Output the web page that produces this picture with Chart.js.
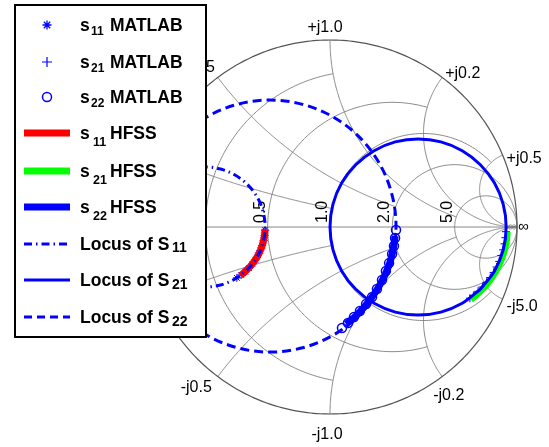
<!DOCTYPE html>
<html><head><meta charset="utf-8">
<script src="https://cdn.jsdelivr.net/npm/chart.js@4/dist/chart.umd.min.js"></script>
<style>html,body{margin:0;padding:0;background:#fff;}canvas{display:block;}</style>
</head><body>
<canvas id="c" width="549" height="447"></canvas>
<script>
// ---- Smith chart grid values ----
const resistanceGrid  = [0.2, 0.5, 1, 2, 5];
const resistanceLimit = [1, 2, 5, Infinity, Infinity];   // max |x| drawn on each r circle
const reactanceGrid   = [0.2, 0.5, 1, 2, 5];
const reactanceLimit  = [1, 2, 5, Infinity, Infinity];   // max r drawn on each x arc
const resistanceLabelValues = [0.5, 1, 2, 5];
const resistanceLabels      = ['0.5', '1.0', '2.0', '5.0'];
const reactanceLabelValues  = [1, 2, 5, 0.5, -0.5, -1, -2, -5];
const reactanceLabels       = ['+j1.0', '+j0.2', '+j0.5', '+j0.5', '-j0.5', '-j1.0', '-j0.2', '-j5.0'];
const infinityLabel = '\u221E';
const nearInfinityRe = [0.965, 0.984];

// ---- Data (reflection coefficient, real / imaginary) ----
const s11LocusRe = [-0.989,-0.978,-0.946,-0.895,-0.828,-0.751,-0.668,-0.585,-0.508,-0.441,-0.390,-0.358,-0.347,-0.358,-0.390,-0.441,-0.508,-0.585,-0.668,-0.751,-0.828,-0.895,-0.946,-0.978,-0.989];
const s11LocusIm = [0.000,-0.083,-0.161,-0.227,-0.278,-0.310,-0.321,-0.310,-0.278,-0.227,-0.161,-0.083,0.000,0.083,0.161,0.227,0.278,0.310,0.321,0.310,0.278,0.227,0.161,0.083,0.000];

const s21LocusRe = [0.804,0.879,0.926,0.942,0.926,0.879,0.804,0.707,0.593,0.471,0.349,0.236,0.138,0.063,0.016,0.000,0.016,0.063,0.138,0.236,0.349,0.471,0.593,0.707,0.804];
const s21LocusIm = [-0.333,-0.236,-0.122,0.000,0.122,0.236,0.333,0.408,0.455,0.471,0.455,0.408,0.333,0.236,0.122,0.000,-0.122,-0.236,-0.333,-0.408,-0.455,-0.471,-0.455,-0.408,-0.333];

const s22LocusRe = [-0.995,-0.972,-0.905,-0.798,-0.658,-0.495,-0.321,-0.147,0.016,0.156,0.263,0.330,0.353,0.330,0.263,0.156,0.016,-0.147,-0.321,-0.495,-0.658,-0.798,-0.905,-0.972,-0.995];
const s22LocusIm = [0.005,-0.169,-0.332,-0.472,-0.579,-0.646,-0.669,-0.646,-0.579,-0.472,-0.332,-0.169,0.005,0.179,0.342,0.482,0.589,0.656,0.679,0.656,0.589,0.482,0.342,0.179,0.005];

const s11MatlabRe = [-0.347,-0.350,-0.355,-0.363,-0.373,-0.385,-0.399,-0.415,-0.433,-0.453,-0.475,-0.498];
const s11MatlabIm = [-0.017,-0.045,-0.072,-0.099,-0.125,-0.151,-0.175,-0.198,-0.219,-0.239,-0.256,-0.272];

const s21MatlabRe = [0.941,0.938,0.933,0.926,0.916,0.905,0.891,0.875,0.857,0.837,0.815,0.792,0.767,0.748];
const s21MatlabIm = [-0.025,-0.057,-0.090,-0.122,-0.153,-0.184,-0.214,-0.243,-0.270,-0.296,-0.321,-0.344,-0.366,-0.381];

const s22MatlabRe = [0.353,0.348,0.342,0.332,0.316,0.299,0.278,0.251,0.225,0.193,0.160,0.128,0.096,0.064];
const s22MatlabIm = [-0.016,-0.059,-0.102,-0.144,-0.193,-0.235,-0.283,-0.332,-0.374,-0.412,-0.449,-0.481,-0.513,-0.540];

const s11HfssRe = [-0.347,-0.352,-0.366,-0.390,-0.422,-0.462,-0.479];
const s11HfssIm = [-0.011,-0.056,-0.110,-0.161,-0.206,-0.246,-0.260];

const s21HfssRe = [0.953,0.947,0.925,0.889,0.841,0.782,0.755];
const s21HfssIm = [-0.025,-0.084,-0.165,-0.242,-0.311,-0.370,-0.391];

const s22HfssRe = [0.348,0.337,0.316,0.273,0.214,0.144,0.086];
const s22HfssIm = [-0.048,-0.123,-0.203,-0.299,-0.390,-0.471,-0.519];

// ---- Legend text ----
const legendMain = ['s','s','s','s','s','s','Locus of S','Locus of S','Locus of S'];
const legendSub  = ['11','21','22','11','21','22','11','21','22'];
const legendRest = ['MATLAB','MATLAB','MATLAB','HFSS','HFSS','HFSS','','',''];

const BLUE = '#0000ff', RED = '#ff0000', GREEN = '#00ff00';
const FONT = "'Liberation Sans', Arial, Helvetica, sans-serif";
const pts = (re, im) => re.map((v, i) => ({x: v, y: im[i]}));

function gamma(r, x) {
  const d = (r + 1) * (r + 1) + x * x;
  return [(r * r + x * x - 1) / d, 2 * x / d];
}

const smithGrid = {
  id: 'smithGrid',
  beforeDatasetsDraw(chart) {
    const ctx = chart.ctx, sx = chart.scales.x, sy = chart.scales.y;
    const P = (re, im) => [sx.getPixelForValue(re), sy.getPixelForValue(im)];
    const pathCircle = (cx, cy, rad, a0, a1, n) => {
      ctx.beginPath();
      for (let k = 0; k <= n; k++) {
        const a = a0 + (a1 - a0) * k / n;
        const p = P(cx + rad * Math.cos(a), cy + rad * Math.sin(a));
        if (k === 0) ctx.moveTo(p[0], p[1]); else ctx.lineTo(p[0], p[1]);
      }
      ctx.stroke();
    };
    ctx.save();
    ctx.lineWidth = 0.9;
    ctx.strokeStyle = '#7a7a7a';
    let a = P(-1, 0), b = P(1, 0);
    ctx.beginPath(); ctx.moveTo(a[0], a[1]); ctx.lineTo(b[0], b[1]); ctx.stroke();
    resistanceGrid.forEach((r, i) => {
      const c = r / (1 + r), rad = 1 / (1 + r);
      let t0 = 0;
      if (isFinite(resistanceLimit[i])) {
        const g = gamma(r, resistanceLimit[i]);
        t0 = Math.atan2(g[1], g[0] - c);
      }
      pathCircle(c, 0, rad, t0, 2 * Math.PI - t0, 240);
    });
    reactanceGrid.forEach((xv, i) => {
      [xv, -xv].forEach(x => {
        const cy = 1 / x, rad = Math.abs(1 / x);
        const fix = ang => {
          if (x > 0 && ang > 0) ang -= 2 * Math.PI;
          if (x < 0 && ang < 0) ang += 2 * Math.PI;
          return ang;
        };
        const g0 = gamma(0, x);
        const a0 = fix(Math.atan2(g0[1] - cy, g0[0] - 1));
        let a1 = x > 0 ? -Math.PI / 2 : Math.PI / 2;
        if (isFinite(reactanceLimit[i])) {
          const g1 = gamma(reactanceLimit[i], x);
          a1 = fix(Math.atan2(g1[1] - cy, g1[0] - 1));
        }
        pathCircle(1, cy, rad, a0, a1, 200);
      });
    });
    nearInfinityRe.forEach(v => pathCircle(v, 0, 0.011, 0, 2 * Math.PI, 24));
    ctx.strokeStyle = '#555555';
    ctx.lineWidth = 1.2;
    pathCircle(0, 0, 1, 0, 2 * Math.PI, 360);

    ctx.fillStyle = '#000';
    ctx.font = '16px ' + FONT;
    const y0 = sy.getPixelForValue(0);
    resistanceLabelValues.forEach((r, i) => {
      const xp = sx.getPixelForValue((r - 1) / (r + 1));
      ctx.save();
      ctx.translate(xp - 3, y0 - 4);
      ctx.rotate(-Math.PI / 2);
      ctx.textAlign = 'left';
      ctx.textBaseline = 'alphabetic';
      ctx.fillText(resistanceLabels[i], 0, 0);
      ctx.restore();
    });
    const offs = [[-5,-8,'center'],[3,1,'left'],[4,8,'left'],[-3,-5,'right'],[-6,15,'right'],[-3,25,'center'],[-9,23,'left'],[4,12,'left']];
    ctx.textBaseline = 'alphabetic';
    reactanceLabelValues.forEach((x, i) => {
      const g = gamma(0, x), p = P(g[0], g[1]);
      ctx.textAlign = offs[i][2];
      ctx.fillText(reactanceLabels[i], p[0] + offs[i][0], p[1] + offs[i][1]);
    });
    const pi = P(1, 0);
    ctx.textAlign = 'left';
    ctx.font = '15px ' + FONT;
    ctx.fillText(infinityLabel, pi[0] + 1, pi[1] + 4);
    ctx.restore();
  }
};

const rowY = [25, 62, 97, 133, 171, 207, 244, 280, 317];
const subStyle = [[91,12,4],[91,12,4],[91,12,4],[93,12.5,7],[93,12.5,7],[93,12.5,7],[172,14,2],[172,14,3],[172,14,3]];

const customLegend = {
  id: 'customLegend',
  afterDraw(chart) {
    const ctx = chart.ctx;
    ctx.save();
    ctx.fillStyle = '#fff';
    ctx.fillRect(15, 5, 191, 332);
    ctx.strokeStyle = '#000';
    ctx.lineWidth = 2;
    ctx.strokeRect(15, 5, 191, 332);
    rowY.forEach((y, i) => {
      const mx = 47;
      ctx.strokeStyle = BLUE;
      ctx.setLineDash([]);
      if (i === 0) {
        ctx.lineWidth = 1.3;
        ctx.beginPath();
        for (let k = 0; k < 4; k++) {
          const a = k * Math.PI / 4;
          ctx.moveTo(mx - 4.5 * Math.cos(a), y - 4.5 * Math.sin(a));
          ctx.lineTo(mx + 4.5 * Math.cos(a), y + 4.5 * Math.sin(a));
        }
        ctx.stroke();
      } else if (i === 1) {
        ctx.lineWidth = 1.2;
        ctx.beginPath();
        ctx.moveTo(mx - 5, y); ctx.lineTo(mx + 5, y);
        ctx.moveTo(mx, y - 5); ctx.lineTo(mx, y + 5);
        ctx.stroke();
      } else if (i === 2) {
        ctx.lineWidth = 1.5;
        ctx.beginPath(); ctx.arc(mx, y, 4.5, 0, 2 * Math.PI); ctx.stroke();
      } else {
        ctx.lineWidth = i < 6 ? 7 : 3;
        ctx.strokeStyle = i === 3 ? RED : (i === 4 ? GREEN : BLUE);
        if (i === 6) ctx.setLineDash([8, 4, 1.5, 4]);
        if (i === 8) ctx.setLineDash([8, 5]);
        ctx.beginPath(); ctx.moveTo(24, y); ctx.lineTo(70, y); ctx.stroke();
        ctx.setLineDash([]);
      }
      ctx.fillStyle = '#000';
      ctx.textAlign = 'left';
      ctx.textBaseline = 'alphabetic';
      ctx.font = 'bold 17.5px ' + FONT;
      ctx.fillText(legendMain[i], 80, y + 6);
      if (legendRest[i]) ctx.fillText(legendRest[i], 110, y + 6);
      const ss = subStyle[i];
      ctx.font = 'bold ' + ss[1] + 'px ' + FONT;
      ctx.fillText(legendSub[i], ss[0], y + 6 + ss[2]);
    });
    ctx.restore();
  }
};

const lineDs = (label, re, im, color, width, dash, order, tension) => ({
  label, data: pts(re, im), showLine: true, borderColor: color, backgroundColor: color,
  borderWidth: width, borderDash: dash, pointRadius: 0, tension: tension, order, clip: false,
  borderCapStyle: 'butt', borderJoinStyle: 'round'
});
const markDs = (label, re, im, style, radius, bw, order) => ({
  label, data: pts(re, im), showLine: false, pointStyle: style, pointRadius: radius,
  pointBorderColor: BLUE, pointBackgroundColor: 'rgba(0,0,0,0)', pointBorderWidth: bw, order, clip: false
});

new Chart(document.getElementById('c'), {
  type: 'scatter',
  data: {
    datasets: [
      lineDs('Locus of S11', s11LocusRe, s11LocusIm, BLUE, 3, [8, 4, 1.5, 4], 1, 0.34),
      lineDs('Locus of S21', s21LocusRe, s21LocusIm, BLUE, 3, [], 1, 0.34),
      lineDs('Locus of S22', s22LocusRe, s22LocusIm, BLUE, 3, [9, 5], 1, 0.34),
      lineDs('s11 HFSS', s11HfssRe, s11HfssIm, RED, 7, [], 2, 0.3),
      lineDs('s21 HFSS', s21HfssRe, s21HfssIm, GREEN, 5, [], 2, 0.3),
      lineDs('s22 HFSS', s22HfssRe, s22HfssIm, BLUE, 7, [], 2, 0.3),
      markDs('s11 MATLAB', s11MatlabRe, s11MatlabIm, 'star', 4, 1, 3),
      markDs('s21 MATLAB', s21MatlabRe, s21MatlabIm, 'cross', 4, 1, 3),
      markDs('s22 MATLAB', s22MatlabRe, s22MatlabIm, 'circle', 4.5, 1.5, 3)
    ]
  },
  options: {
    responsive: false,
    animation: false,
    events: [],
    layout: {padding: {left: 143, right: 32, top: 40, bottom: 33}},
    scales: {
      x: {type: 'linear', min: -1, max: 1, display: false},
      y: {type: 'linear', min: -1, max: 1, display: false}
    },
    elements: {line: {capBezierPoints: false}},
    plugins: {legend: {display: false}, tooltip: {enabled: false}}
  },
  plugins: [smithGrid, customLegend]
});
</script>
</body></html>
